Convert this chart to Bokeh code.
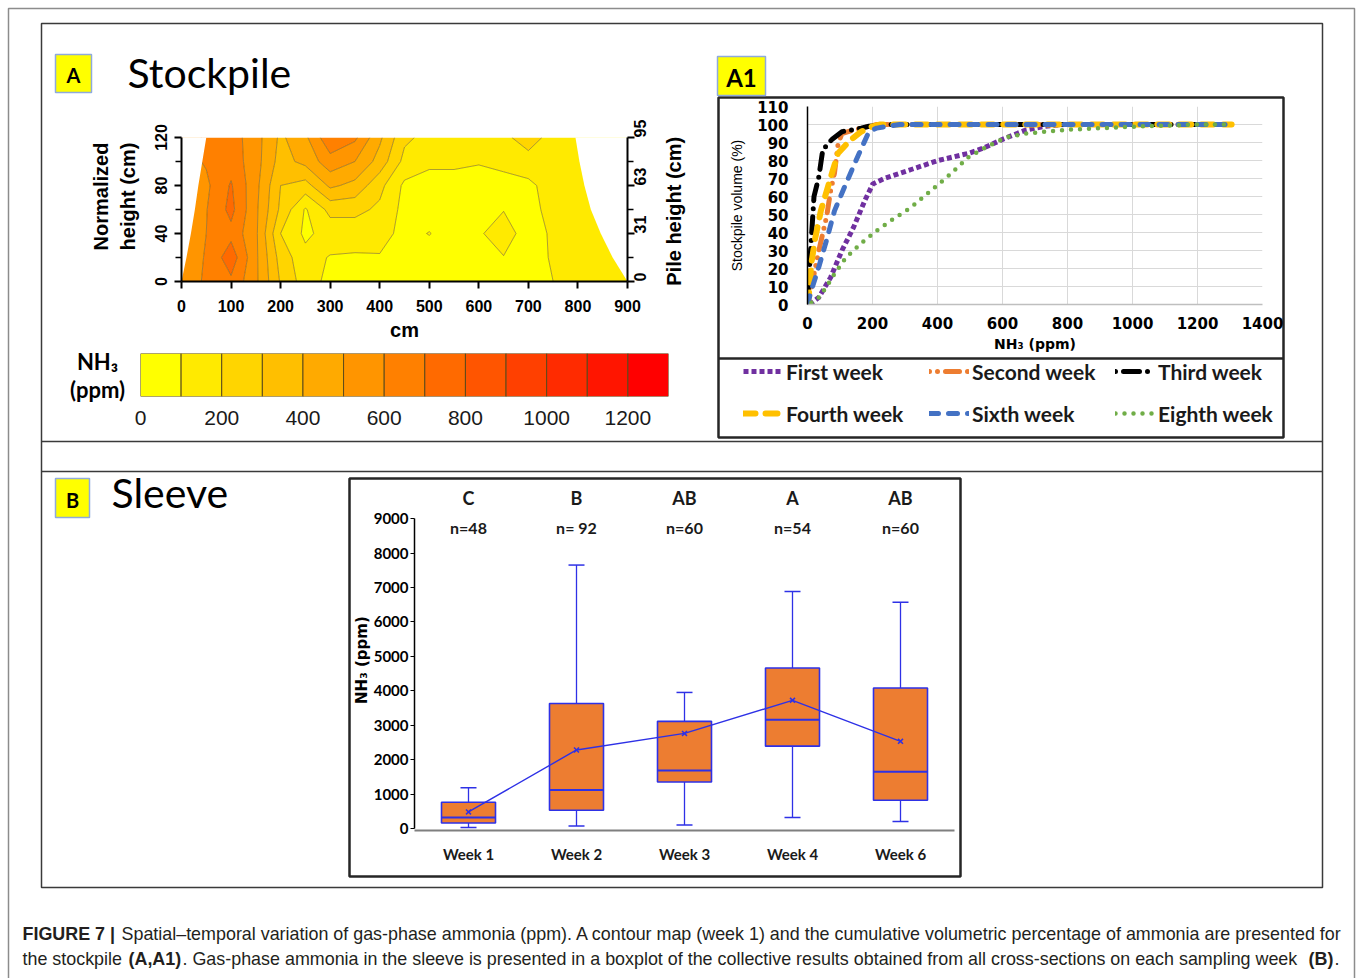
import numpy as np
from bokeh.plotting import figure
from bokeh.models import (Range1d, FactorRange, FixedTicker, LinearAxis, GridBox, Column,
                          Legend, LegendItem, ColumnDataSource)
from bokeh.transform import dodge
from bokeh.core.properties import value
from bokeh.embed import file_html
from bokeh.resources import INLINE

# ------------------------------------------------------------------ data
# Panel A : contour map of NH3 (ppm), week 1  (rows = heights, columns = distance)
grid_x = [0, 50, 100, 150, 200, 250, 300, 350, 400, 450, 500, 550, 600, 650, 700, 750, 800, 850, 900]
grid_y = [0, 20, 40, 60, 80, 100, 120]
nh3_h0 = [560, 610, 680, 520, 290, 150, 70, 70, 70, 60, 50, 40, 50, 60, 60, 100, 150, 150, 150]
nh3_h20 = [560, 605, 760, 520, 260, 130, 95, 90, 90, 60, 40, 40, 60, 95, 60, 110, 150, 150, 150]
nh3_h40 = [560, 600, 670, 520, 200, 80, 140, 140, 150, 60, 105, 40, 85, 160, 40, 120, 150, 150, 150]
nh3_h60 = [560, 595, 730, 520, 280, 90, 230, 230, 180, 70, 40, 40, 50, 95, 70, 130, 150, 150, 150]
nh3_h80 = [560, 580, 710, 530, 300, 260, 420, 370, 230, 80, 40, 60, 40, 60, 80, 140, 150, 150, 150]
nh3_h100 = [560, 610, 660, 540, 360, 430, 560, 500, 360, 170, 130, 120, 110, 130, 150, 150, 150, 150, 150]
nh3_h120 = [560, 610, 650, 540, 380, 480, 680, 620, 420, 220, 170, 150, 130, 170, 260, 150, 150, 150, 150]
nh3_grid = [nh3_h0, nh3_h20, nh3_h40, nh3_h60, nh3_h80, nh3_h100, nh3_h120]

# stockpile profile (outside of it the map is blank)
pile_y = [0, 20, 40, 60, 80, 100, 120]
pile_left_x = [0, 10, 19, 27, 34, 42, 50]
pile_right_x = [900, 870, 846, 826, 813, 803, 795]

contour_xticks = [0, 100, 200, 300, 400, 500, 600, 700, 800, 900]
norm_height_ticks = [0, 40, 80, 120]
norm_height_minor = [20, 60, 100]
pile_height_labels = ["0", "31", "63", "95"]

nh3_levels = [0, 100, 200, 300, 400, 500, 600, 700, 800, 900, 1000, 1100, 1200, 1300]
nh3_palette = ["#FFFF00", "#FFEA00", "#FFD500", "#FFBF00", "#FFAA00", "#FF9500", "#FF8000",
               "#FF6A00", "#FF5500", "#FF4000", "#FF2B00", "#FF1500", "#FF0000"]
colorbar_ticks = [0, 200, 400, 600, 800, 1000, 1200]

# Panel A1 : cumulative stockpile volume (%) vs NH3 (ppm)
week1_x = [6, 35, 71, 106, 142, 177, 201, 236, 319, 402, 496, 543, 603, 673, 732, 790]
week1_y = [0, 4, 15, 30, 43, 58, 67, 70, 75, 80, 84, 87, 92, 97, 99, 100]
week2_x = [2, 18, 35, 59, 71, 83, 94, 106, 142, 213, 1305]
week2_y = [1, 15, 30, 49, 63, 73, 89, 95, 97, 100, 100]
week3_x = [0, 4, 12, 20, 35, 47, 77, 106, 165, 189, 260, 1305]
week3_y = [0, 15, 37, 60, 71, 86, 92, 96, 98, 99, 100, 100]
week4_x = [2, 12, 24, 41, 59, 77, 94, 130, 165, 201, 224, 1305]
week4_y = [0, 23, 37, 52, 63, 74, 84, 91, 96, 99, 100, 100]
week6_x = [0, 12, 35, 59, 83, 118, 154, 189, 213, 284, 1305]
week6_y = [0, 8, 21, 36, 52, 67, 82, 96, 98, 100, 100]
week8_x = [12, 35, 59, 83, 118, 165, 213, 260, 319, 378, 437, 496, 555, 614, 673, 791, 910, 1028, 1205, 1305]
week8_y = [1, 4, 10, 17, 26, 34, 41, 47, 54, 63, 72, 82, 88, 93, 95, 97, 98, 99, 100, 100]
series_names = ["First week", "Second week", "Third week", "Fourth week", "Sixth week", "Eighth week"]
a1_xticks = [0, 200, 400, 600, 800, 1000, 1200, 1400]
a1_yticks = [0, 10, 20, 30, 40, 50, 60, 70, 80, 90, 100, 110]

# Panel B : sleeve boxplot
weeks = ["Week 1", "Week 2", "Week 3", "Week 4", "Week 6"]
whisker_low = [30, 70, 100, 320, 200]
quart1 = [160, 530, 1350, 2390, 820]
medians = [320, 1120, 1680, 3160, 1650]
quart3 = [760, 3630, 3110, 4660, 4080]
whisker_high = [1180, 7650, 3950, 6880, 6570]
means = [480, 2280, 2760, 3720, 2530]
group_letters = ["C", "B", "AB", "A", "AB"]
n_labels = ["n=48", "n= 92", "n=60", "n=54", "n=60"]
box_yticks = [0, 1000, 2000, 3000, 4000, 5000, 6000, 7000, 8000, 9000]

# ------------------------------------------------------------------ layout helpers
W, H = 1356, 978      # canvas, page pixels (canvas sits at the page origin)


def panel(left, top, right, bottom, **kw):
    """A transparent full-page figure whose frame sits at the given page pixels."""
    p = figure(width=W, height=H, output_backend="svg", toolbar_location=None,
               min_border_left=left, min_border_top=top,
               min_border_right=W - right, min_border_bottom=H - bottom, **kw)
    p.background_fill_color = None
    p.border_fill_color = None
    p.outline_line_color = None
    return p


def style_axis(ax, font, size, bold=True, color="black"):
    ax.major_label_text_font = font
    ax.major_label_text_font_size = size
    ax.major_label_text_font_style = "bold" if bold else "normal"
    ax.major_label_text_color = color


# ------------------------------------------------------------------ background page
bg = panel(0, 0, W, H, x_range=Range1d(0, W), y_range=Range1d(H, 0),
           x_axis_location=None, y_axis_location=None)
bg.grid.visible = False
bg.border_fill_color = "white"
bg.background_fill_color = "white"

# light page border
bg.quad(left=[8], right=[1354], top=[8], bottom=[1000], fill_color=None,
        line_color="#8c8c8c", line_width=1.5)
frame_col = "#3a3a3a"
bg.quad(left=[41], right=[1322], top=[23], bottom=[887], fill_color=None,
        line_color=frame_col, line_width=1.5)
bg.segment(x0=[41, 41], x1=[1322, 1322], y0=[441, 471], y1=[441, 471],
           line_color=frame_col, line_width=1.5)
bg.quad(left=[718], right=[1283], top=[97], bottom=[437], fill_color=None,
        line_color="#262626", line_width=2.5)
bg.segment(x0=[718], x1=[1283], y0=[358], y1=[358], line_color="#262626", line_width=2.5)
bg.quad(left=[349], right=[960], top=[478], bottom=[876], fill_color=None,
        line_color="#262626", line_width=2.5)

# yellow panel tags
bg.quad(left=[55, 717, 55], right=[91, 765, 89], top=[54, 56, 478], bottom=[92, 95, 517],
        fill_color="#FFFF00", line_color="#8FAADC", line_width=1.5)
bg.text(x=[73, 72], y=[74, 499], text=["A", "B"], text_font=value("Lato"),
        text_font_style="bold", text_font_size="20px", text_align="center",
        text_baseline="middle", text_color="black")
bg.text(x=[741], y=[77], text=["A1"], text_font=value("Lato"), text_font_style="bold",
        text_font_size="24px", text_align="center", text_baseline="middle", text_color="black")

bg.text(x=[127, 111], y=[72, 492], text=["Stockpile", "Sleeve"], text_font=value("Lato"),
        text_font_size="41px", text_baseline="middle", text_color="black")

# colour-bar caption
bg.text(x=[97, 97], y=[361, 389], text=["NH\u2083", "(ppm)"], text_font=value("Lato"),
        text_font_style="bold", text_font_size="22px", text_align="center",
        text_baseline="middle", text_color="black")

# contour-map side titles (rotated)
bg.text(x=[100, 127], y=[196, 196], text=["Normalized", "height (cm)"], angle=np.pi / 2,
        text_font=value("Liberation Sans"), text_font_style="bold", text_font_size="20px",
        text_align="center", text_baseline="middle", text_color="black")
bg.text(x=[673], y=[208], text=["Pile height  (cm)"], angle=np.pi / 2,
        text_font=value("Liberation Sans"), text_font_style="bold", text_font_size="20px",
        text_align="center", text_baseline="middle", text_color="black")

# figure caption
cap_font = value("Liberation Sans")
cap_size = "17.9px"
cap_col = "#231F20"
bg.text(x=[22], y=[933], text=["FIGURE 7 |"], text_font=cap_font, text_font_style="bold",
        text_font_size=cap_size, text_baseline="middle", text_color=cap_col)
bg.text(x=[121], y=[933],
        text=["Spatial\u2013temporal variation of gas-phase ammonia (ppm). A contour map (week 1) "
              "and the cumulative volumetric percentage of ammonia are presented for"],
        text_font=cap_font, text_font_size=cap_size, text_baseline="middle", text_color=cap_col)
bg.text(x=[22], y=[958], text=["the stockpile"], text_font=cap_font,
        text_font_size=cap_size, text_baseline="middle", text_color=cap_col)
bg.text(x=[128], y=[958], text=["(A,A1)"], text_font=cap_font, text_font_style="bold",
        text_font_size=cap_size, text_baseline="middle", text_color=cap_col)
bg.text(x=[182], y=[958],
        text=[". Gas-phase ammonia in the sleeve is presented in a boxplot of the collective "
              "results obtained from all cross-sections on each sampling week"],
        text_font=cap_font, text_font_size=cap_size, text_baseline="middle", text_color=cap_col)
bg.text(x=[1308], y=[958], text=["(B)"], text_font=cap_font, text_font_style="bold",
        text_font_size=cap_size, text_baseline="middle", text_color=cap_col)
bg.text(x=[1334], y=[958], text=["."], text_font=cap_font,
        text_font_size=cap_size, text_baseline="middle", text_color=cap_col)

# ------------------------------------------------------------------ panel A contour map
pc = panel(181, 137, 627, 281, x_range=Range1d(0, 900), y_range=Range1d(0, 120))
pc.grid.visible = False
pc.contour(x=grid_x, y=grid_y, z=np.array(nh3_grid, dtype=float), levels=nh3_levels,
           fill_color=nh3_palette, line_color="#6b5a1c", line_alpha=0.55, line_width=1)
pc.patch(x=[-20] + pile_left_x + [pile_left_x[-1], -20], y=[0] + pile_y + [130, 130],
         fill_color="white", line_color=None)
pc.patch(x=[920] + pile_right_x + [pile_right_x[-1], 920], y=[0] + pile_y + [130, 130],
         fill_color="white", line_color=None)

pc.xaxis.ticker = FixedTicker(ticks=contour_xticks)
pc.yaxis.ticker = FixedTicker(ticks=norm_height_ticks, minor_ticks=norm_height_minor)
pc.yaxis.major_label_orientation = "vertical"
right_ax = LinearAxis(ticker=FixedTicker(ticks=norm_height_ticks, minor_ticks=norm_height_minor),
                      major_label_overrides=dict(zip(norm_height_ticks, pile_height_labels)),
                      major_label_orientation=np.pi / 2)
pc.add_layout(right_ax, "right")
for ax in pc.axis:
    ax.axis_line_width = 2
    ax.axis_line_color = "black"
    ax.major_tick_line_width = 2
    ax.major_tick_line_color = "black"
    ax.minor_tick_line_width = 1.5
    ax.minor_tick_line_color = "black"
    ax.major_tick_in = 0
    ax.minor_tick_in = 0
    ax.major_tick_out = 7
    ax.minor_tick_out = 6
    style_axis(ax, "Liberation Sans", "16px")
pc.xaxis.major_label_standoff = 11
pc.yaxis.major_label_standoff = 8
right_ax.major_label_standoff = 5
pc.xaxis.axis_label = "cm"
pc.xaxis.axis_label_text_font = "Liberation Sans"
pc.xaxis.axis_label_text_font_style = "bold"
pc.xaxis.axis_label_text_font_size = "20px"
pc.xaxis.axis_label_text_color = "black"
pc.xaxis.axis_label_standoff = 4

# ------------------------------------------------------------------ panel A colour bar
pcb = panel(140, 353, 668, 396, x_range=Range1d(0, 1300), y_range=Range1d(0, 1),
            y_axis_location=None)
pcb.grid.visible = False
pcb.quad(left=nh3_levels[:-1], right=nh3_levels[1:], bottom=0, top=1,
         fill_color=nh3_palette, line_color="#5c4b1b", line_width=1)
pcb.xaxis.ticker = FixedTicker(ticks=colorbar_ticks)
pcb.xaxis.axis_line_color = None
pcb.xaxis.major_tick_line_color = None
pcb.xaxis.minor_tick_line_color = None
pcb.xaxis.major_tick_out = 0
pcb.xaxis.major_label_standoff = 14
style_axis(pcb.xaxis, "Liberation Sans", "21px", bold=False, color="#1a1a1a")

# ------------------------------------------------------------------ panel A1 cumulative curves
series_styles = [
    dict(line_color="#7030A0", line_width=5, line_dash="5 3", line_cap="butt"),
    dict(line_color="#ED7D31", line_width=5, line_dash="0 8 0 8 14 8", line_cap="round"),
    dict(line_color="#000000", line_width=5, line_dash="0 8 16 8", line_cap="round"),
    dict(line_color="#FFC000", line_width=6, line_dash="12 10", line_cap="round"),
    dict(line_color="#4472C4", line_width=5, line_dash="9 10", line_cap="round"),
    dict(line_color="#70AD47", line_width=4.5, line_dash="0 9", line_cap="round"),
]
series_x = [week1_x, week2_x, week3_x, week4_x, week6_x, week8_x]
series_y = [week1_y, week2_y, week3_y, week4_y, week6_y, week8_y]

pa = panel(807, 106, 1262, 304, x_range=Range1d(0, 1400), y_range=Range1d(0, 110))
pa.xaxis.ticker = FixedTicker(ticks=a1_xticks)
pa.yaxis.ticker = FixedTicker(ticks=a1_yticks)
pa.grid.grid_line_color = "#D9D9D9"
pa.grid.grid_line_width = 1
for xs, ys, st in zip(series_x, series_y, series_styles):
    pa.line(x=xs, y=ys, line_join="round", **st)
for ax in pa.axis:
    ax.major_tick_line_color = None
    ax.minor_tick_line_color = None
    ax.major_tick_out = 0
    ax.minor_tick_out = 0
    style_axis(ax, "DejaVu Sans", "15px")
pa.xaxis.axis_line_color = "#BFBFBF"
pa.xaxis.axis_line_width = 1.5
pa.yaxis.axis_line_color = "black"
pa.yaxis.axis_line_width = 1.5
pa.xaxis.major_label_standoff = 12
pa.yaxis.major_label_standoff = 19
pa.xaxis.axis_label = "NH\u2083 (ppm)"
pa.xaxis.axis_label_text_font = "DejaVu Sans"
pa.xaxis.axis_label_text_font_style = "bold"
pa.xaxis.axis_label_text_font_size = "14px"
pa.xaxis.axis_label_text_color = "black"
pa.xaxis.axis_label_standoff = 4
pa.yaxis.axis_label = "Stockpile volume (%)"
pa.yaxis.axis_label_text_font = "Liberation Sans"
pa.yaxis.axis_label_text_font_style = "normal"
pa.yaxis.axis_label_text_font_size = "14px"
pa.yaxis.axis_label_text_color = "black"
pa.yaxis.axis_label_standoff = 9

# legend of A1 (own frame = legend box); proxies carry the same series, never painted
pl = panel(718, 358, 1283, 437, x_range=Range1d(0, 1400), y_range=Range1d(0, 110),
           x_axis_location=None, y_axis_location=None)
pl.grid.visible = False
items = []
for name, xs, ys, st in zip(series_names, series_x, series_y, series_styles):
    r = pl.line(x=xs, y=ys, visible=False, **st)
    items.append(LegendItem(label=name, renderers=[r]))
legend = Legend(items=items, location=(25, 6), orientation="horizontal", ncols=3,
                glyph_width=40, glyph_height=20, label_width=137, label_height=36,
                label_standoff=3, spacing=6, padding=0, margin=0,
                border_line_color=None, background_fill_alpha=0,
                label_text_font="Lato", label_text_font_style="bold",
                label_text_font_size="21px", label_text_color="#1a1a1a")
pl.add_layout(legend)

# ------------------------------------------------------------------ panel B boxplot
blue = "#2E31E6"
pb = panel(414, 484, 954, 830, x_range=FactorRange(factors=weeks, range_padding=0),
           y_range=Range1d(-60, 9990))
pb.grid.visible = False
src = ColumnDataSource(dict(week=weeks, low=whisker_low, q1=quart1, med=medians, q3=quart3,
                            high=whisker_high, mean=means, letter=group_letters, n=n_labels))
pb.segment(x0="week", y0="low", x1="week", y1="q1", source=src, line_color=blue, line_width=1.3)
pb.segment(x0="week", y0="q3", x1="week", y1="high", source=src, line_color=blue, line_width=1.3)
pb.scatter(x="week", y="low", source=src, marker="dash", size=16, line_color=blue, line_width=1.5)
pb.scatter(x="week", y="high", source=src, marker="dash", size=16, line_color=blue, line_width=1.5)
pb.vbar(x="week", width=0.5, bottom="q1", top="q3", source=src, fill_color="#ED7D31",
        line_color=blue, line_width=1.6)
pb.segment(x0=dodge("week", -0.25, range=pb.x_range), y0="med",
           x1=dodge("week", 0.25, range=pb.x_range), y1="med", source=src,
           line_color=blue, line_width=2)
pb.line(x="week", y="mean", source=src, line_color=blue, line_width=1.4)
pb.scatter(x="week", y="mean", source=src, marker="x", size=7, line_color=blue, line_width=1.5)
letter_y = 9600
n_y = 8750
pb.text(x="week", y=letter_y, text="letter", source=src, text_font=value("Lato"),
        text_font_style="bold", text_font_size="18px", text_align="center",
        text_baseline="middle", text_color="#1a1a1a")
pb.text(x="week", y=n_y, text="n", source=src, text_font=value("Lato"),
        text_font_style="bold", text_font_size="16px", text_align="center",
        text_baseline="middle", text_color="#1a1a1a")

pb.yaxis.ticker = FixedTicker(ticks=box_yticks)
pb.yaxis.bounds = (0, 9000)
pb.yaxis.axis_line_color = "black"
pb.yaxis.axis_line_width = 1.5
pb.yaxis.major_tick_in = 0
pb.yaxis.major_tick_out = 4
pb.yaxis.minor_tick_line_color = None
pb.yaxis.major_label_standoff = 2
style_axis(pb.yaxis, "Lato", "15px")
pb.yaxis.axis_label = "NH\u2083  (ppm)"
pb.yaxis.axis_label_text_font = "DejaVu Sans"
pb.yaxis.axis_label_text_font_style = "bold"
pb.yaxis.axis_label_text_font_size = "15px"
pb.yaxis.axis_label_text_color = "black"
pb.yaxis.axis_label_standoff = 0
pb.xaxis.axis_line_color = "#7F7F7F"
pb.xaxis.axis_line_width = 2
pb.xaxis.major_tick_line_color = None
pb.xaxis.major_tick_out = 0
pb.xaxis.major_label_standoff = 14
style_axis(pb.xaxis, "Lato", "15px", color="#1a1a1a")

# ------------------------------------------------------------------ assemble (stacked, same cell)
figs = [bg, pc, pcb, pa, pl, pb]
layout = GridBox(children=[(Column(children=[f], width=W, height=H), 0, 0) for f in figs])
open("out.html", "w").write(file_html(layout, INLINE, "Figure 7"))
